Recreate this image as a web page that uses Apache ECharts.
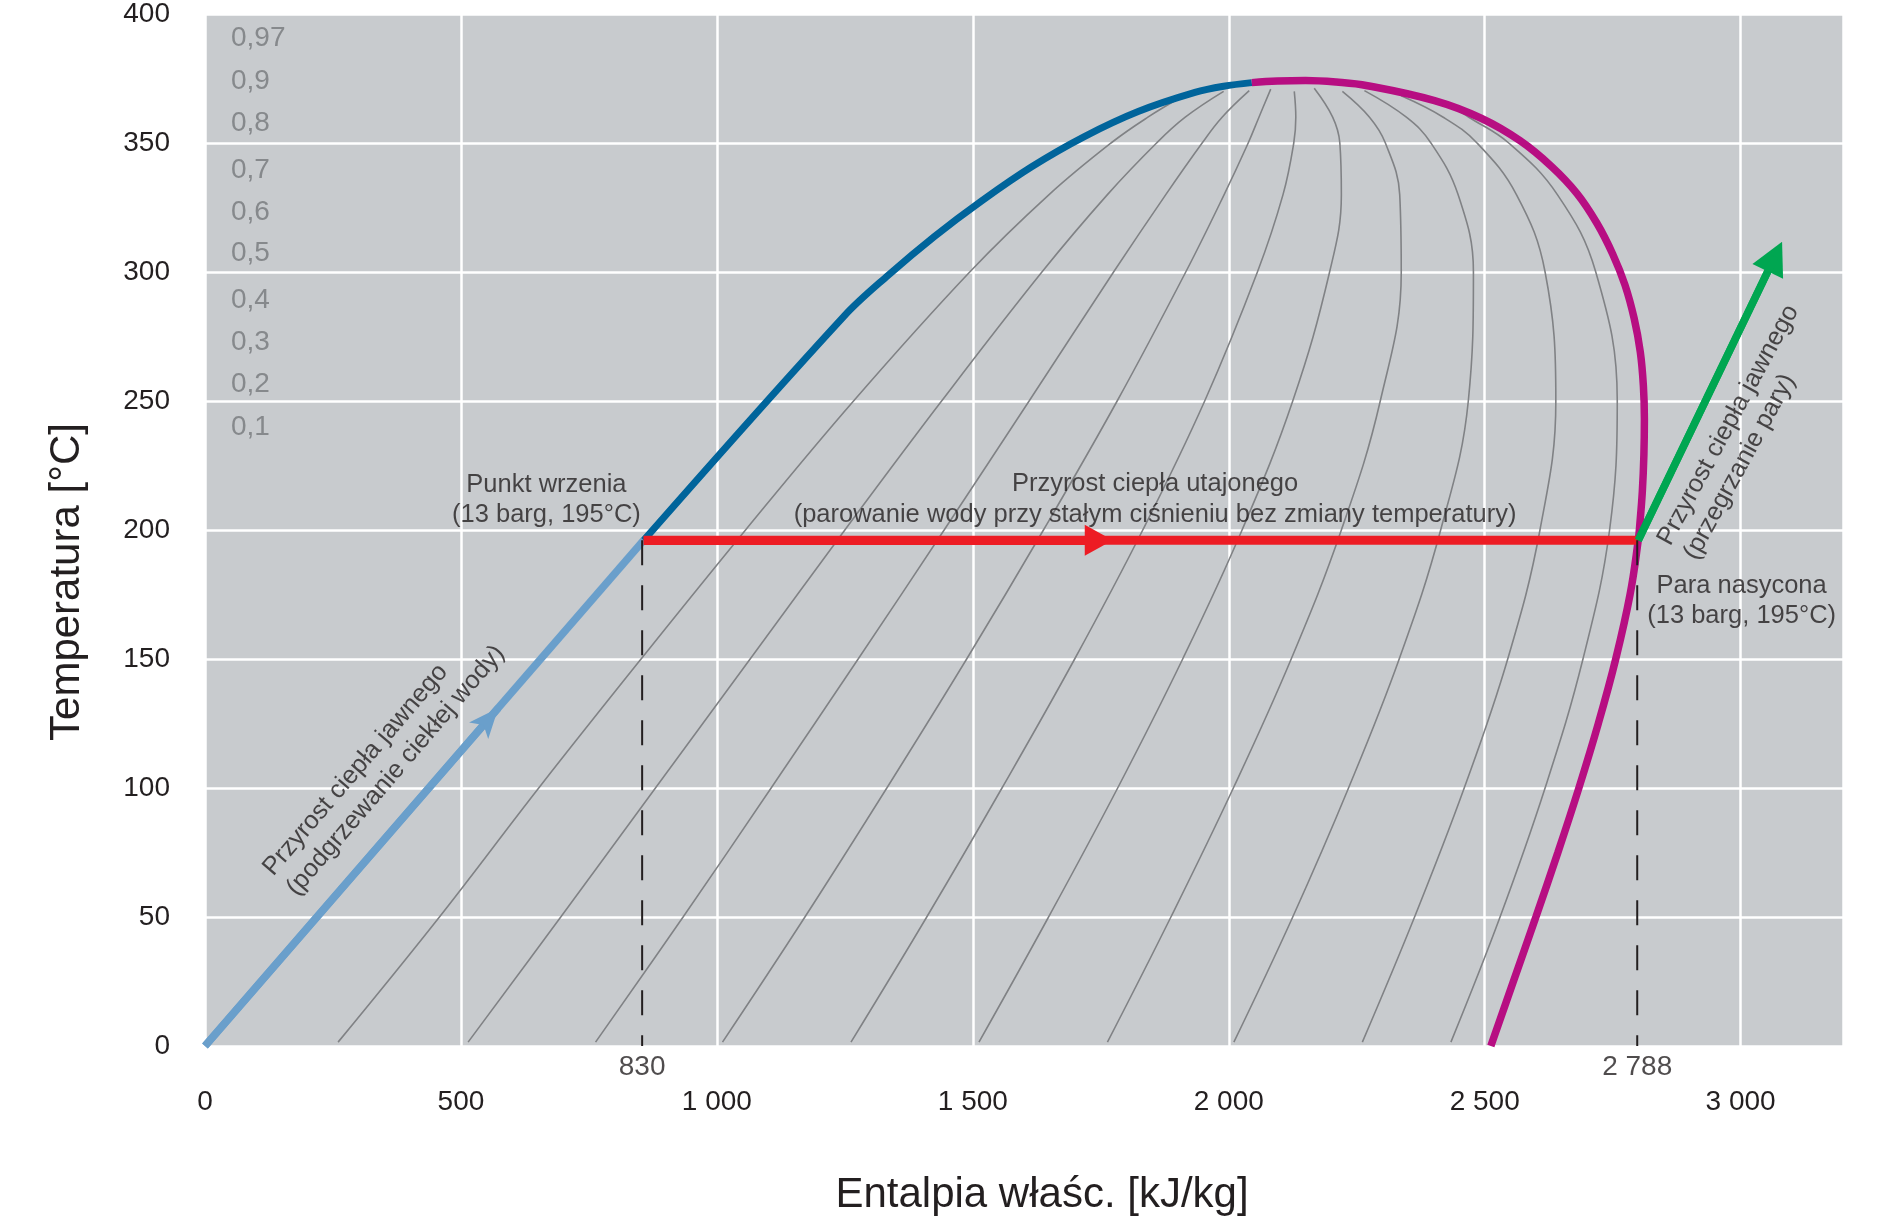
<!DOCTYPE html>
<html><head><meta charset="utf-8">
<script src="https://cdn.jsdelivr.net/npm/echarts@6/dist/echarts.min.js"></script>
<style>html,body{margin:0;padding:0;background:#fff}#c{width:1890px;height:1221px}</style>
</head><body><div id="c"></div>
<script>
// ---- axis ticks ----
const xTickValues = [0, 500, 1000, 1500, 2000, 2500, 3000];
const yTickValues = [0, 50, 100, 150, 200, 250, 300, 350, 400];

// ---- saturation curves [enthalpy kJ/kg, temperature °C] ----
const liquidHeating = [[0, 0], [857, 196]];
const satLiquid = [[857, 196], [1249, 283], [1335, 298.8], [1425, 313.8], [1518, 327.7], [1615, 340.8], [1717, 352.4], [1823, 362.2], [1934, 369.6], [1990, 372], [2045, 373.4]];
const satVapor = [[2045, 373.4], [2095, 374], [2150, 374.2], [2210, 373.6], [2271, 372.2], [2402, 366.4], [2493, 359.6], [2569, 350.9], [2630, 341], [2680, 330.5], [2719, 319], [2750, 307], [2774, 295], [2792, 282], [2804, 269], [2810, 256], [2812, 243], [2811, 229], [2808, 215], [2803, 202], [2800, 196], [2784, 175], [2756, 150], [2722, 125], [2684, 100], [2643, 75], [2600, 50], [2556, 25], [2512, 0]];
const evaporation = [[857, 196], [2800, 196]];
const superheat = [[2800, 196], [3067, 306]];

// ---- constant dryness lines ----
const qualityLabels = ['0,97', '0,9', '0,8', '0,7', '0,6', '0,5', '0,4', '0,3', '0,2', '0,1'];
const q01 = [[260, 1.5], [458, 50], [652, 100], [852, 150], [1056, 200], [1267, 250], [1494, 300], [1649, 330], [1770, 350], [1842, 360], [1909, 368]];
const q02 = [[514, 1.5], [695, 50], [880, 100], [1065, 150], [1250, 200], [1439, 250], [1635, 300], [1763, 330], [1859, 350], [1915, 360], [1990, 370]];
const q03 = [[763, 1.5], [934, 50], [1106, 100], [1276, 150], [1444, 200], [1610, 250], [1775, 300], [1877, 330], [1948, 350], [1987, 360], [2040, 370.3]];
const q04 = [[1011, 1.5], [1172, 50], [1332, 100], [1488, 150], [1638, 200], [1782, 250], [1916, 300], [1991, 330], [2038, 350], [2059, 360], [2082, 370.9]];
const q05 = [[1262, 1.5], [1410, 50], [1557, 100], [1699, 150], [1832, 200], [1953, 250], [2056, 300], [2106, 330], [2127, 350], [2131, 360], [2128, 370]];
const q06 = [[1512, 1.5], [1648, 50], [1783, 100], [1910, 150], [2026, 200], [2125, 250], [2197, 300], [2220, 330], [2217, 350], [2203, 360], [2167, 371.2]];
const q07 = [[1763, 1.5], [1887, 50], [2009, 100], [2122, 150], [2220, 200], [2296, 250], [2337, 300], [2334, 330], [2306, 350], [2275, 360], [2222, 370]];
const q08 = [[2010, 1.5], [2125, 50], [2234, 100], [2333, 150], [2414, 200], [2468, 250], [2478, 300], [2448, 330], [2395, 350], [2347, 360], [2265, 370.3]];
const q09 = [[2261, 1.5], [2363, 50], [2460, 100], [2545, 150], [2608, 200], [2639, 250], [2618, 300], [2562, 330], [2485, 350], [2419, 360], [2337, 368.3]];
const q097 = [[2434, 1.5], [2530, 50], [2618, 100], [2692, 150], [2744, 200], [2759, 250], [2717, 300], [2642, 330], [2547, 350], [2469, 360], [2436, 364]];
const qualityLines = [q01, q02, q03, q04, q05, q06, q07, q08, q09, q097];

// ---- marked points ----
const markH = [854, 2798];          // drawn position of the dashed lines
const markText = ['830', '2 788'];  // their labels
const markT = 196;

// ---- arrow heads (line start, centre of head) ----
const arrowLiquid = [[0, 0], [573, 131]];
const arrowEvap = [[857, 196], [1746, 196]];
const arrowSuper = [[2800, 196], [3067, 306]];

// ---- texts ----
const notes = [
  'Punkt wrzenia\n(13 barg, 195°C)',
  'Przyrost ciepła utajonego\n(parowanie wody przy stałym ciśnieniu bez zmiany temperatury)',
  'Para nasycona\n(13 barg, 195°C)',
  'Przyrost ciepła jawnego\n(podgrzewanie ciekłej wody)',
  'Przyrost ciepła jawnego\n(przegrzanie pary)'
];
const noteLayout = [
  { at: [667, 211.8], align: 'center', rotate: 0, lh: 30 },
  { at: [1856, 211.8], align: 'center', rotate: 0, lh: 30.5 },
  { at: [3002, 172.3], align: 'center', rotate: 0, lh: 30 },
  { at: [146, 63.5], align: 'left', rotate: 49.4, lh: 31 },
  { at: [2876, 192], align: 'left', rotate: 61.5, lh: 30 }
];

const FONT = '"Liberation Sans", Arial, Helvetica, sans-serif';
const TXT = '#231F20';
const C = { liquid: '#6A9FCB', satLiq: '#00649B', satVap: '#B70E82', red: '#ED1C24', green: '#00A651', gray: '#808285' };

function fmt(v) { return String(v).replace(/\B(?=(\d{3})+(?!\d))/g, ' '); }

const series = [];
qualityLines.forEach((d, i) => series.push({
  type: 'line', name: 'x=' + qualityLabels[i], data: d, smooth: 0.4, symbol: 'none',
  lineStyle: { color: C.gray, width: 1.6 }, z: 2, silent: true
}));
function arrowML(pts, color, width, sym, size) {
  return {
    silent: true, symbol: ['none', sym], symbolSize: size, animation: false,
    label: { show: false }, lineStyle: { color, width, type: 'solid' }, emphasis: { disabled: true },
    itemStyle: { color },
    data: [[{ coord: pts[0] }, { coord: pts[1] }]]
  };
}
series.push({ type: 'line', data: liquidHeating, symbol: 'none', z: 4, lineStyle: { color: C.liquid, width: 7.5 },
  markLine: arrowML(arrowLiquid, C.liquid, 7.5, 'arrow', [19, 30]) });
series.push({ type: 'line', data: satLiquid, smooth: 0.35, symbol: 'none', z: 4, lineStyle: { color: C.satLiq, width: 7 } });
series.push({ type: 'line', data: satVapor, smooth: 0.4, symbol: 'none', z: 4, lineStyle: { color: C.satVap, width: 7.5 } });
series.push({ type: 'line', data: evaporation, symbol: 'none', z: 5, lineStyle: { color: C.red, width: 9 },
  markLine: arrowML(arrowEvap, C.red, 9, 'triangle', [31, 28]) });
series.push({ type: 'line', data: superheat, symbol: 'none', z: 5, lineStyle: { color: C.green, width: 7.5 },
  markLine: arrowML(arrowSuper, C.green, 7.5, 'triangle', [34, 33]) });
markH.forEach(h => series.push({ type: 'line', data: [[h, markT], [h, 0]], symbol: 'none', z: 6,
  lineStyle: { color: TXT, width: 2, type: [25, 20] } }));
// labels under the dashed lines
series.push({ type: 'scatter', clip: false, symbolSize: 0, z: 7, silent: true,
  data: markH.map((h, i) => ({ value: [h, -8.1], label: { formatter: markText[i] } })),
  label: { show: true, position: 'inside', fontSize: 28, fontFamily: FONT, color: TXT, align: 'center', verticalAlign: 'middle' } });
// annotations
series.push({ type: 'scatter', clip: false, symbolSize: 0, z: 7, silent: true,
  data: notes.map((t, i) => ({ value: noteLayout[i].at, label: {
    formatter: t, align: noteLayout[i].align, rotate: noteLayout[i].rotate, lineHeight: noteLayout[i].lh } })),
  label: { show: true, position: 'inside', fontSize: 25.5, fontFamily: FONT, color: TXT, verticalAlign: 'middle' } });

const qualityY = [38.5, 81, 123.5, 170, 212, 253.5, 300, 342, 384.5, 427];
const graphics = qualityLabels.map((t, i) => ({
  type: 'text', x: 231, y: qualityY[i], silent: true,
  style: { text: t, fill: '#86898C', font: '28px ' + FONT, textAlign: 'left', textVerticalAlign: 'middle', align: 'left', verticalAlign: 'middle' }
}));
graphics.push({ type: 'text', x: 1042, y: 1195, silent: true,
  style: { text: 'Entalpia właśc. [kJ/kg]', fill: TXT, font: '42px ' + FONT, textAlign: 'center', textVerticalAlign: 'middle', align: 'center', verticalAlign: 'middle' } });
graphics.push({ type: 'text', x: 67, y: 582, rotation: Math.PI / 2, silent: true,
  style: { text: 'Temperatura [°C]', fill: TXT, font: '42px ' + FONT, textAlign: 'center', textVerticalAlign: 'middle', align: 'center', verticalAlign: 'middle' } });

const chart = echarts.init(document.getElementById('c'), null, { renderer: 'canvas' });
chart.setOption({
  animation: false,
  backgroundColor: '#ffffff',
  grid: { left: 205, right: 47, top: 13, bottom: 175, show: true, backgroundColor: '#C8CBCE', borderWidth: 0 },
  xAxis: {
    type: 'value', min: 0, max: 3200, interval: 500,
    axisLine: { show: false }, axisTick: { show: false },
    splitLine: { show: true, lineStyle: { color: '#ffffff', width: 2.5 } },
    axisLabel: { fontSize: 28, fontFamily: FONT, color: TXT, margin: 42,
      formatter: v => xTickValues.includes(v) ? fmt(v) : '' }
  },
  yAxis: {
    type: 'value', min: 0, max: 400, interval: 50,
    axisLine: { show: false }, axisTick: { show: false },
    splitLine: { show: true, lineStyle: { color: '#ffffff', width: 2.5 } },
    axisLabel: { fontSize: 28, fontFamily: FONT, color: TXT, margin: 35,
      formatter: v => yTickValues.includes(v) ? String(v) : '' }
  },
  series,
  graphic: graphics
});
</script></body></html>
